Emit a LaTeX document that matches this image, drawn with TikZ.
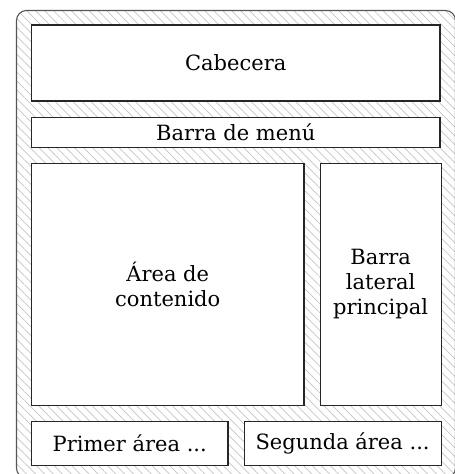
\documentclass[tikz,border=0pt]{standalone}
\usepackage{fontspec}
\setmainfont{DejaVu Serif}
\usepackage{tikz}
\usetikzlibrary{positioning,patterns.meta}
\definecolor{frameGray}{HTML}{555555}
\definecolor{hatchGray}{HTML}{C4C4C4}
\tikzset{
  lay/frame/.style={draw=frameGray, line width=1.1pt, rounded corners=10pt},
  lay/hatch/.style={pattern={Lines[angle=-45,distance=6.3pt,line width=0.7pt]}, pattern color=hatchGray},
  lay/area/.style={draw=black!85, line width=1.1pt, fill=white, align=center, inner sep=2pt,
    font=\fontsize{21}{25}\selectfont}
}
\begin{document}
\begin{tikzpicture}[x=1pt, y=1pt, node distance=15pt]
  \useasboundingbox (0,0) rectangle (455,474);
  % marco exterior rayado
  \fill[lay/hatch, rounded corners=10pt] (16.5,-4) rectangle (455.5,463.5);
  \draw[lay/frame] (16.5,-4) rectangle (455.5,463.5);

  \node[lay/area, minimum width=408.5pt, minimum height=76pt] (cabecera) at (235.75,411) {Cabecera};
  \node[lay/area, minimum width=408.5pt, minimum height=30pt, below=of cabecera] (menu) {Barra de menú};
  \node[lay/area, minimum width=272.5pt, minimum height=242pt, below=of menu.south west, anchor=north west] (contenido) {Área de\\contenido};
  \node[lay/area, minimum width=121pt, minimum height=242pt, right=of contenido] (lateral) {Barra\\lateral\\principal};
  \node[lay/area, minimum width=196.5pt, minimum height=44pt, below=of contenido.south west, anchor=north west] (primer) {Primer área ...};
  \node[lay/area, minimum width=197pt, minimum height=44pt, right=of primer] (segunda) {Segunda área ...};
\end{tikzpicture}
\end{document}
